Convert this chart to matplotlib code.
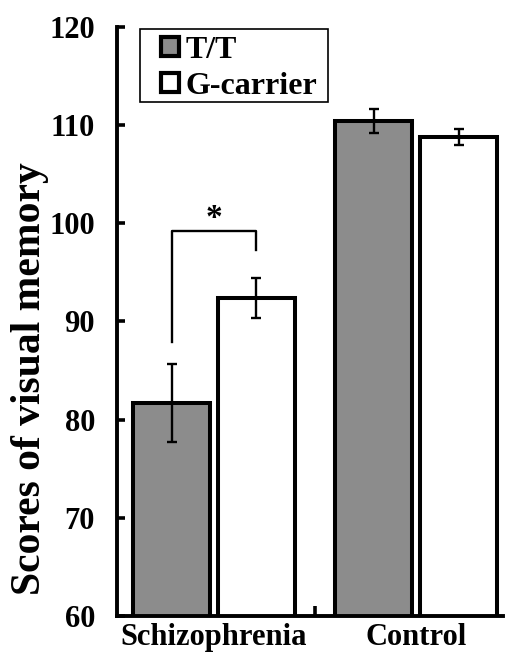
import matplotlib

matplotlib.use("Agg")

import matplotlib.pyplot as plt
import numpy as np
from matplotlib.patches import Patch, Rectangle

plt.rcParams["font.family"] = ["Liberation Serif", "DejaVu Serif"]
plt.rcParams["font.weight"] = "bold"

groups = ["Schizophrenia", "Control"]
genotypes = ["T/T", "G-carrier"]
means = {
    "T/T": [81.7, 110.4],
    "G-carrier": [92.4, 108.8],
}
errors = {
    "T/T": [4.0, 1.25],
    "G-carrier": [2.05, 0.8],
}
colors = {"T/T": "#8c8c8c", "G-carrier": "white"}


def main() -> None:
    fig = plt.figure(figsize=(5.07, 6.57), dpi=100)
    ax = fig.add_axes([0.231, 0.0624, 0.761, 0.8966])

    x = np.arange(len(groups))
    width = 0.38
    offsets = {"T/T": -0.21, "G-carrier": 0.21}
    for g in genotypes:
        ax.bar(
            x + offsets[g],
            means[g],
            width=width,
            bottom=0,
            color=colors[g],
            edgecolor="black",
            linewidth=2.9,
            yerr=errors[g],
            error_kw=dict(ecolor="black", elinewidth=1.7, capsize=3.5, capthick=1.7),
            zorder=2,
        )

    # significance bracket between schizophrenia groups
    xl, xr = x[0] + offsets["T/T"], x[0] + offsets["G-carrier"]
    ax.plot([xl, xl, xr, xr], [87.9, 99.2, 99.2, 97.3], color="black", linewidth=1.7)
    ax.text((xl + xr) / 2, 98.9, "*", ha="center", va="bottom", fontsize=24)

    ax.set_ylim(60, 120)
    ax.set_xlim(-0.48, 1.43)
    ax.set_yticks(np.arange(60, 121, 10))
    ax.set_xticks([0.5])
    ax.set_xticklabels([""])
    ax.tick_params(axis="y", direction="in", length=6, width=2.6, labelsize=22, pad=16)
    ax.tick_params(axis="x", direction="in", length=7, width=2.6)
    for lab in ax.get_yticklabels():
        lab.set_fontweight("bold")
    for side in ["top", "right"]:
        ax.spines[side].set_visible(False)
    for side in ["left", "bottom"]:
        ax.spines[side].set_linewidth(2.8)

    for xi, name in zip(x, groups):
        ax.annotate(
            name,
            xy=(xi, 0),
            xycoords=("data", "axes fraction"),
            xytext=(0, -5),
            textcoords="offset points",
            ha="center",
            va="top",
            fontsize=22,
            fontweight="bold",
        )

    fig.text(
        30 / 507,
        1 - 379 / 657,
        "Scores of visual memory",
        rotation=90,
        ha="center",
        va="center",
        fontsize=30,
        fontweight="bold",
    )

    # legend box drawn separately so the padding matches the original
    ax.add_patch(
        Rectangle(
            (0.0596, 0.873), 0.487, 0.124,
            transform=ax.transAxes, facecolor="white", edgecolor="black",
            linewidth=1.2, zorder=3,
        )
    )
    handles = [
        Patch(facecolor=colors[g], edgecolor="black", linewidth=3.0, label=g)
        for g in genotypes
    ]
    leg = ax.legend(
        handles=handles,
        loc="upper left",
        bbox_to_anchor=(0.102, 0.993),
        fontsize=23,
        frameon=False,
        handlelength=0.55,
        handleheight=0.55,
        handletextpad=0.2,
        borderpad=0.15,
        borderaxespad=0.0,
        labelspacing=0.22,
    )
    leg.set_zorder(4)

    fig.savefig("out.png", dpi=100)


if __name__ == "__main__":
    main()
